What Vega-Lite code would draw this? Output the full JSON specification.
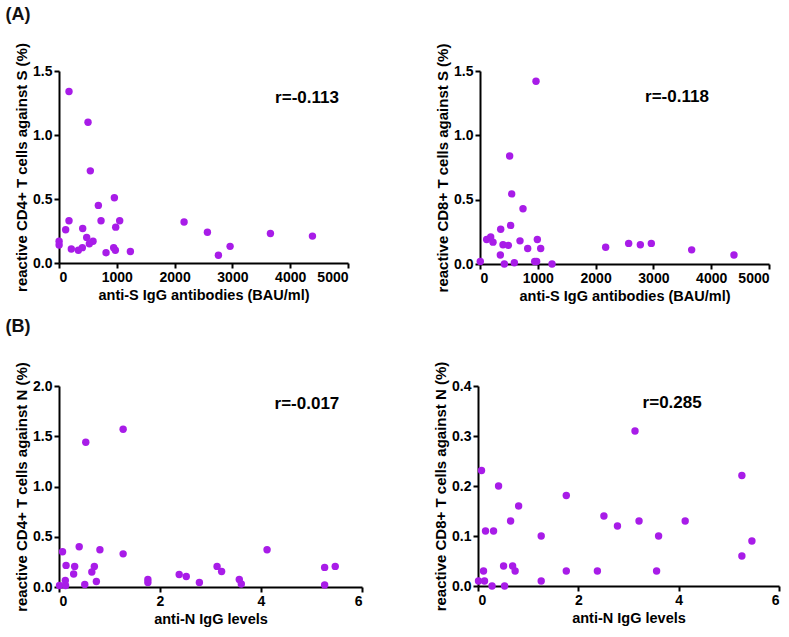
{
  "$schema": "https://vega.github.io/schema/vega-lite/v6.json",
  "padding": {"left": 5, "top": 5, "right": 5, "bottom": 5},
  "background": "white",
  "config": {
    "font": "Liberation Sans",
    "view": {"stroke": null},
    "axis": {
      "grid": false,
      "domainColor": "black",
      "domainWidth": 2,
      "tickColor": "black",
      "tickWidth": 2,
      "tickSize": 5,
      "labelFont": "Liberation Sans",
      "labelFontSize": 14,
      "labelFontWeight": "bold",
      "labelColor": "black",
      "labelPadding": 2,
      "titleFont": "Liberation Sans",
      "titleFontSize": 14.5,
      "titleFontWeight": "bold",
      "titleColor": "black",
      "titlePadding": 4
    },
    "axisY": {"titleFontSize": 15, "titlePadding": 3},
    "title": {"font": "Liberation Sans", "fontSize": 18, "fontWeight": "bold", "color": "#111111", "anchor": "start"},
    "concat": {"spacing": 15}
  },
  "datasets": {
    "cd4S": [
      {"antiS": 173, "pct": 1.34}, {"antiS": 502, "pct": 1.10}, {"antiS": 542, "pct": 0.72},
      {"antiS": 958, "pct": 0.51}, {"antiS": 681, "pct": 0.45}, {"antiS": 173, "pct": 0.33},
      {"antiS": 727, "pct": 0.33}, {"antiS": 1050, "pct": 0.33}, {"antiS": 115, "pct": 0.26},
      {"antiS": 410, "pct": 0.27}, {"antiS": 981, "pct": 0.28}, {"antiS": 479, "pct": 0.20},
      {"antiS": 589, "pct": 0.17}, {"antiS": 525, "pct": 0.15}, {"antiS": 2, "pct": 0.17},
      {"antiS": 2, "pct": 0.14}, {"antiS": 213, "pct": 0.11}, {"antiS": 404, "pct": 0.12},
      {"antiS": 335, "pct": 0.10}, {"antiS": 946, "pct": 0.12}, {"antiS": 975, "pct": 0.10},
      {"antiS": 814, "pct": 0.08}, {"antiS": 1235, "pct": 0.09}, {"antiS": 2164, "pct": 0.32},
      {"antiS": 2568, "pct": 0.24}, {"antiS": 2758, "pct": 0.06}, {"antiS": 2960, "pct": 0.13},
      {"antiS": 3658, "pct": 0.23}, {"antiS": 4385, "pct": 0.21}
    ],
    "cd8S": [
      {"antiS": 969, "pct": 1.42}, {"antiS": 513, "pct": 0.84}, {"antiS": 548, "pct": 0.545},
      {"antiS": 744, "pct": 0.43}, {"antiS": 358, "pct": 0.27}, {"antiS": 530, "pct": 0.30},
      {"antiS": 115, "pct": 0.19}, {"antiS": 185, "pct": 0.21}, {"antiS": 225, "pct": 0.17},
      {"antiS": 398, "pct": 0.15}, {"antiS": 490, "pct": 0.145}, {"antiS": 692, "pct": 0.18},
      {"antiS": 825, "pct": 0.12}, {"antiS": 992, "pct": 0.19}, {"antiS": 1050, "pct": 0.12},
      {"antiS": 352, "pct": 0.07}, {"antiS": 5, "pct": 0.02}, {"antiS": 421, "pct": 0.0},
      {"antiS": 594, "pct": 0.01}, {"antiS": 946, "pct": 0.02}, {"antiS": 980, "pct": 0.02},
      {"antiS": 1246, "pct": 0.0}, {"antiS": 2174, "pct": 0.13}, {"antiS": 2572, "pct": 0.16},
      {"antiS": 2774, "pct": 0.15}, {"antiS": 2964, "pct": 0.16}, {"antiS": 3662, "pct": 0.11},
      {"antiS": 4394, "pct": 0.07}
    ],
    "cd4N": [
      {"antiN": 1.27, "pct": 1.57}, {"antiN": 0.53, "pct": 1.44}, {"antiN": 0.07, "pct": 0.35},
      {"antiN": 0.40, "pct": 0.40}, {"antiN": 0.81, "pct": 0.37}, {"antiN": 1.27, "pct": 0.33},
      {"antiN": 4.12, "pct": 0.37}, {"antiN": 0.14, "pct": 0.215}, {"antiN": 0.31, "pct": 0.205},
      {"antiN": 0.70, "pct": 0.205}, {"antiN": 0.29, "pct": 0.13}, {"antiN": 0.65, "pct": 0.15},
      {"antiN": 0.125, "pct": 0.065}, {"antiN": 0.74, "pct": 0.055}, {"antiN": 0.51, "pct": 0.025},
      {"antiN": 0.01, "pct": 0.015}, {"antiN": 0.13, "pct": 0.015}, {"antiN": 1.76, "pct": 0.075},
      {"antiN": 1.76, "pct": 0.045}, {"antiN": 2.38, "pct": 0.125}, {"antiN": 2.52, "pct": 0.105},
      {"antiN": 2.78, "pct": 0.045}, {"antiN": 3.13, "pct": 0.205}, {"antiN": 3.22, "pct": 0.155},
      {"antiN": 3.57, "pct": 0.075}, {"antiN": 3.61, "pct": 0.03}, {"antiN": 5.26, "pct": 0.195},
      {"antiN": 5.47, "pct": 0.205}, {"antiN": 5.26, "pct": 0.02}
    ],
    "cd8N": [
      {"antiN": 3.13, "pct": 0.31}, {"antiN": 0.07, "pct": 0.231}, {"antiN": 5.26, "pct": 0.221},
      {"antiN": 0.41, "pct": 0.20}, {"antiN": 1.76, "pct": 0.181}, {"antiN": 0.81, "pct": 0.16},
      {"antiN": 2.51, "pct": 0.14}, {"antiN": 0.65, "pct": 0.13}, {"antiN": 3.21, "pct": 0.13},
      {"antiN": 4.13, "pct": 0.13}, {"antiN": 2.78, "pct": 0.12}, {"antiN": 0.15, "pct": 0.11},
      {"antiN": 0.31, "pct": 0.11}, {"antiN": 1.26, "pct": 0.10}, {"antiN": 3.60, "pct": 0.10},
      {"antiN": 5.46, "pct": 0.09}, {"antiN": 5.26, "pct": 0.06}, {"antiN": 0.51, "pct": 0.04},
      {"antiN": 0.69, "pct": 0.04}, {"antiN": 0.74, "pct": 0.03}, {"antiN": 0.11, "pct": 0.03},
      {"antiN": 1.76, "pct": 0.03}, {"antiN": 2.38, "pct": 0.03}, {"antiN": 3.56, "pct": 0.03},
      {"antiN": 0.01, "pct": 0.01}, {"antiN": 0.13, "pct": 0.01}, {"antiN": 1.26, "pct": 0.01},
      {"antiN": 0.28, "pct": 0.0}, {"antiN": 0.53, "pct": 0.0}
    ],
    "one": [{"label": "r"}]
  },
  "vconcat": [
    {
      "title": {"text": "(A)", "offset": 19, "dx": -9},
      "spacing": 86,
      "hconcat": [
        {
          "width": 289, "height": 192,
          "layer": [
            {
              "data": {"name": "cd4S"},
              "mark": {"type": "circle", "size": 55, "opacity": 1, "color": "#A81CE8"},
              "encoding": {
                "x": {"field": "antiS", "type": "quantitative", "scale": {"domain": [0, 5000], "nice": false}, "axis": {"values": [0, 1000, 2000, 3000, 4000, 5000], "format": "d", "title": "anti-S IgG antibodies (BAU/ml)"}},
                "y": {"field": "pct", "type": "quantitative", "scale": {"domain": [0, 1.5], "nice": false}, "axis": {"values": [0, 0.5, 1.0, 1.5], "format": ".1f", "title": "reactive CD4+ T cells against S (%)"}}
              }
            },
            {
              "data": {"name": "one"},
              "mark": {"type": "text", "text": "r=-0.113", "fontSize": 17, "fontWeight": "bold", "color": "black", "align": "center", "baseline": "middle"},
              "encoding": {"x": {"datum": 4291}, "y": {"datum": 1.29}}
            }
          ]
        },
        {
          "width": 289, "height": 193,
          "layer": [
            {
              "data": {"name": "cd8S"},
              "mark": {"type": "circle", "size": 55, "opacity": 1, "color": "#A81CE8"},
              "encoding": {
                "x": {"field": "antiS", "type": "quantitative", "scale": {"domain": [0, 5000], "nice": false}, "axis": {"values": [0, 1000, 2000, 3000, 4000, 5000], "format": "d", "title": "anti-S IgG antibodies (BAU/ml)"}},
                "y": {"field": "pct", "type": "quantitative", "scale": {"domain": [0, 1.5], "nice": false}, "axis": {"values": [0, 0.5, 1.0, 1.5], "format": ".1f", "title": "reactive CD8+ T cells against S (%)"}}
              }
            },
            {
              "data": {"name": "one"},
              "mark": {"type": "text", "text": "r=-0.118", "fontSize": 17, "fontWeight": "bold", "color": "black", "align": "center", "baseline": "middle"},
              "encoding": {"x": {"datum": 3408}, "y": {"datum": 1.30}}
            }
          ]
        }
      ]
    },
    {
      "title": {"text": "(B)", "offset": 25, "dx": -9},
      "spacing": 70,
      "hconcat": [
        {
          "width": 303, "height": 201,
          "layer": [
            {
              "data": {"name": "cd4N"},
              "mark": {"type": "circle", "size": 55, "opacity": 1, "color": "#A81CE8"},
              "encoding": {
                "x": {"field": "antiN", "type": "quantitative", "scale": {"domain": [0, 6], "nice": false}, "axis": {"values": [0, 2, 4, 6], "title": "anti-N IgG levels"}},
                "y": {"field": "pct", "type": "quantitative", "scale": {"domain": [0, 2], "nice": false}, "axis": {"values": [0, 0.5, 1.0, 1.5, 2.0], "format": ".1f", "title": "reactive CD4+ T cells against N (%)"}}
              }
            },
            {
              "data": {"name": "one"},
              "mark": {"type": "text", "text": "r=-0.017", "fontSize": 17, "fontWeight": "bold", "color": "black", "align": "center", "baseline": "middle"},
              "encoding": {"x": {"datum": 4.91}, "y": {"datum": 1.82}}
            }
          ]
        },
        {
          "width": 301, "height": 200,
          "layer": [
            {
              "data": {"name": "cd8N"},
              "mark": {"type": "circle", "size": 55, "opacity": 1, "color": "#A81CE8"},
              "encoding": {
                "x": {"field": "antiN", "type": "quantitative", "scale": {"domain": [0, 6], "nice": false}, "axis": {"values": [0, 2, 4, 6], "title": "anti-N IgG levels"}},
                "y": {"field": "pct", "type": "quantitative", "scale": {"domain": [0, 0.4], "nice": false}, "axis": {"values": [0, 0.1, 0.2, 0.3, 0.4], "format": ".1f", "title": "reactive CD8+ T cells against N (%)"}}
              }
            },
            {
              "data": {"name": "one"},
              "mark": {"type": "text", "text": "r=0.285", "fontSize": 17, "fontWeight": "bold", "color": "black", "align": "center", "baseline": "middle"},
              "encoding": {"x": {"datum": 3.87}, "y": {"datum": 0.366}}
            }
          ]
        }
      ]
    }
  ]
}
